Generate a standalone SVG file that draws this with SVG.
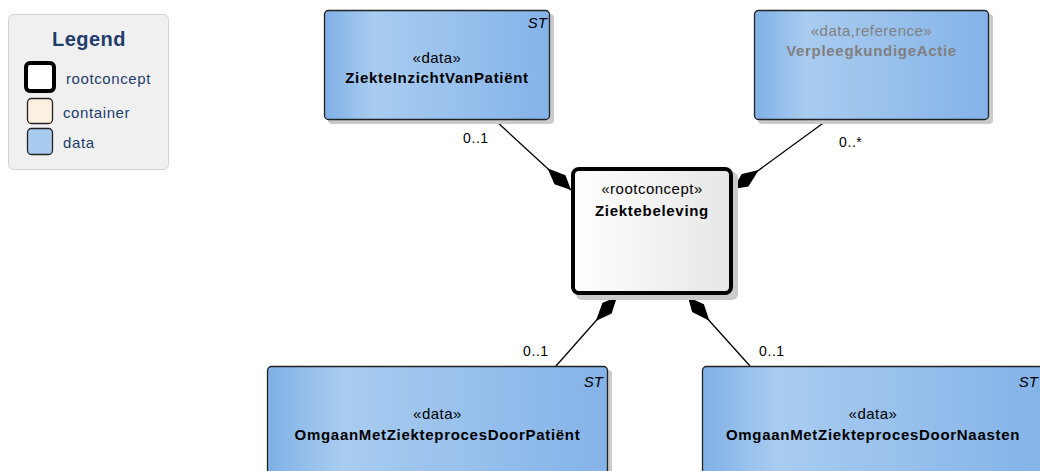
<svg xmlns="http://www.w3.org/2000/svg" width="1040" height="471" viewBox="0 0 1040 471">
<style>
  .t { font-family: "Liberation Sans", Arial, sans-serif; fill: #000; }
  .ster { font-size: 15px; letter-spacing: 0.5px; }
  .name { font-size: 15px; font-weight: bold; letter-spacing: 0.7px; }
  .st { font-size: 15px; font-style: italic; }
  .mult { font-size: 14px; letter-spacing: 0.6px; }
  .gray { fill: #808080; }
  .data { fill: url(#gData); stroke: #222; stroke-width: 1.3; }
  .shadow { fill: #cacaca; }
  .leg { font-family: "Liberation Sans", Arial, sans-serif; fill: #1f3d6b; font-size: 15px; letter-spacing: 0.6px; }
  .conn { stroke: #000; stroke-width: 1.3; fill: none; marker-end: url(#diamond); }
</style>
<defs>
  <linearGradient id="gData" x1="0" y1="0" x2="1" y2="0">
    <stop offset="0" stop-color="#7fb0e6"/>
    <stop offset="0.22" stop-color="#a9ccf0"/>
    <stop offset="1" stop-color="#84b3e8"/>
  </linearGradient>
  <linearGradient id="gRoot" x1="0" y1="0" x2="1" y2="0">
    <stop offset="0" stop-color="#ffffff"/>
    <stop offset="1" stop-color="#e6e6e6"/>
  </linearGradient>
  <marker id="diamond" markerUnits="userSpaceOnUse" markerWidth="40" markerHeight="20" viewBox="-34 -10 36 20" refX="0" refY="0" orient="auto">
    <path d="M0,0 L-14,-7 L-32,0 L-16,7 Z" fill="#000"/>
  </marker>
</defs>
<rect width="1040" height="471" fill="#fff"/>

<g id="legend">
  <rect x="8.5" y="14.5" width="160" height="155" rx="5" fill="#f0f0f0" stroke="#d4d4d4"/>
  <text class="leg" x="89" y="46" text-anchor="middle" style="font-size:20px;font-weight:bold;letter-spacing:0.5px">Legend</text>
  <rect x="26" y="63" width="28" height="28" rx="4" fill="#fff" stroke="#000" stroke-width="4"/>
  <text class="leg" x="66" y="84">rootconcept</text>
  <rect x="27.5" y="98.5" width="25" height="25" rx="4" fill="#fbf0e2" stroke="#222" stroke-width="1.3"/>
  <text class="leg" x="63" y="118">container</text>
  <rect x="27.5" y="128.5" width="25" height="26" rx="4" fill="#a9cbf0" stroke="#222" stroke-width="1.3"/>
  <text class="leg" x="63" y="148">data</text>
</g>

<g id="connectors">
  <line class="conn" x1="496" y1="121" x2="571" y2="190"/>
  <line class="conn" x1="826" y1="121" x2="733" y2="189"/>
  <line class="conn" x1="556" y1="366" x2="617" y2="297"/>
  <line class="conn" x1="750" y1="366" x2="688" y2="297"/>
  <text class="t mult" x="463" y="143">0..1</text>
  <text class="t mult" x="839" y="147">0..*</text>
  <text class="t mult" x="523" y="356">0..1</text>
  <text class="t mult" x="759" y="356">0..1</text>
</g>

<g id="ZiekteInzichtVanPatient">
  <rect class="shadow" x="328" y="14" width="226" height="110" rx="4"/>
  <rect class="data" x="324.5" y="10.5" width="225" height="109" rx="4"/>
  <text class="t st" x="547" y="28" text-anchor="end">ST</text>
  <text class="t ster" x="437" y="63" text-anchor="middle">«data»</text>
  <text class="t name" x="437" y="83" text-anchor="middle">ZiekteInzichtVanPatiënt</text>
</g>

<g id="VerpleegkundigeActie">
  <rect class="shadow" x="758" y="14" width="235" height="110" rx="4"/>
  <rect class="data" x="754.5" y="10.5" width="234" height="109" rx="4"/>
  <text class="t ster gray" x="871.5" y="36" text-anchor="middle">«data,reference»</text>
  <text class="t name gray" x="871.5" y="56" text-anchor="middle">VerpleegkundigeActie</text>
</g>

<g id="Ziektebeleving">
  <rect class="shadow" x="576" y="172" width="162" height="128" rx="6"/>
  <rect x="573" y="169" width="158" height="124" rx="6" fill="url(#gRoot)" stroke="#000" stroke-width="4"/>
  <text class="t ster" x="652" y="194" text-anchor="middle">«rootconcept»</text>
  <text class="t name" x="652" y="216" text-anchor="middle">Ziektebeleving</text>
</g>

<g id="OmgaanMetZiekteprocesDoorPatient">
  <rect class="shadow" x="271" y="370" width="341" height="120" rx="4"/>
  <rect class="data" x="267.5" y="366.5" width="340" height="120" rx="4"/>
  <text class="t st" x="603" y="387" text-anchor="end">ST</text>
  <text class="t ster" x="437.5" y="419" text-anchor="middle">«data»</text>
  <text class="t name" x="437.5" y="440" text-anchor="middle">OmgaanMetZiekteprocesDoorPatiënt</text>
</g>

<g id="OmgaanMetZiekteprocesDoorNaasten">
  <rect class="shadow" x="706" y="370" width="341" height="120" rx="4"/>
  <rect class="data" x="702.5" y="366.5" width="340" height="120" rx="4"/>
  <text class="t st" x="1038" y="387" text-anchor="end">ST</text>
  <text class="t ster" x="873" y="419" text-anchor="middle">«data»</text>
  <text class="t name" x="873" y="440" text-anchor="middle">OmgaanMetZiekteprocesDoorNaasten</text>
</g>
</svg>
